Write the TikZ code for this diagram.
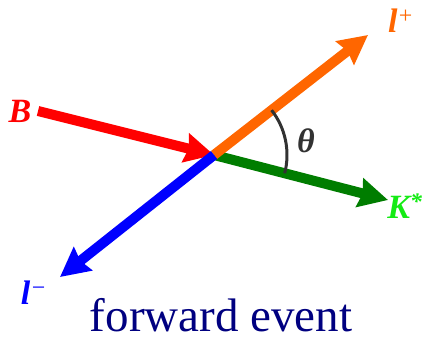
\documentclass[tikz,border=0pt]{standalone}
\usepackage{fontspec}
\setmainfont{Liberation Serif}
\usepackage{tikz}
\usetikzlibrary{arrows.meta, calc}
\definecolor{LepOrange}{RGB}{255,102,0}
\definecolor{KstGreen}{RGB}{0,125,0}
\definecolor{KstLabel}{RGB}{20,235,20}
\definecolor{EvNavy}{RGB}{0,0,128}
\definecolor{AngGray}{RGB}{50,50,50}

\begin{document}
\begin{tikzpicture}[x=1pt, y=1pt,
	vec/.style={line width=10pt, -{Stealth[length=29pt, width=29pt, inset=3pt]}},
	lab/.style={font=\fontsize{34}{34}\selectfont\bfseries\itshape, inner sep=0pt},
	ang/.style={AngGray, line width=3pt}]
	\useasboundingbox (0,0) rectangle (422,340);

	\coordinate (vx) at (214,185);
	\coordinate (bs) at (38,229);
	\coordinate (lp) at (368,305);
	\coordinate (km) at (388,140);
	\coordinate (lm) at (60,63);

	\draw[vec, red] (bs) -- (vx);
	\draw[vec, KstGreen] (vx) -- (km);
	\draw[vec, LepOrange] (vx) -- (lp);
	\draw[vec, blue] (vx) -- (lm);

	% angle between l+ and K*
	\draw[ang] ([shift={(-14.5:73)}]vx) arc[start angle=-14.5, end angle=37.9, radius=73];
	\node[font=\fontsize{34}{34}\selectfont\bfseries\itshape, text=AngGray] (th) at (306,199) {θ};

	\node[lab, text=red] (lb) at (20,229) {B};
	\node[lab, text=LepOrange] (llp) at (401,319) {l\textsuperscript{\mdseries +}};
	\node[lab, text=KstLabel] (lk) at (405,134) {K\textsuperscript{*}};
	\node[lab, text=blue] (llm) at (34,47) {l\textsuperscript{\mdseries −}};

	\node[font=\fontsize{47}{47}\selectfont, text=EvNavy, anchor=base, inner sep=0pt] (ev) at (221,9) {forward event};
\end{tikzpicture}
\end{document}
